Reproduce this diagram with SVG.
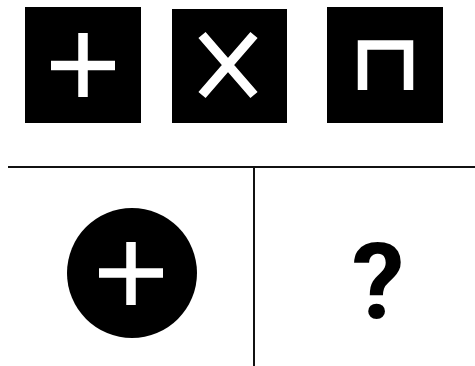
<svg xmlns="http://www.w3.org/2000/svg" width="475" height="366" viewBox="0 0 475 366">
<style>
.box{fill:#000}
.sym{fill:none;stroke:#fff;stroke-width:9.5;stroke-linecap:butt}
.div{stroke:#111;stroke-width:2;fill:none}
.q{font-family:Roboto,"Liberation Sans",sans-serif;font-weight:700;font-size:106px;fill:#000}
</style>
<rect width="475" height="366" fill="#fff"/>
<g id="box-plus">
<rect class="box" x="25" y="7" width="116" height="116"/>
<path class="sym" d="M51 65.5H115M83 33V97"/>
</g>
<g id="box-cross">
<rect class="box" x="172" y="9" width="115" height="114"/>
<path class="sym" d="M202 35L254 95M254 35L202 95"/>
</g>
<g id="box-pi">
<rect class="box" x="327" y="7" width="116" height="116"/>
<path class="sym" d="M362.5 90V45H408.5V90"/>
</g>
<g id="grid">
<path class="div" d="M8 167H475M254 167V366"/>
</g>
<g id="circle-plus">
<circle cx="132" cy="273" r="65" fill="#000"/>
<path class="sym" d="M99 273H163M131 242V305"/>
</g>
<g id="question">
<text class="q" x="378" y="318" text-anchor="middle">?</text>
</g>
</svg>
